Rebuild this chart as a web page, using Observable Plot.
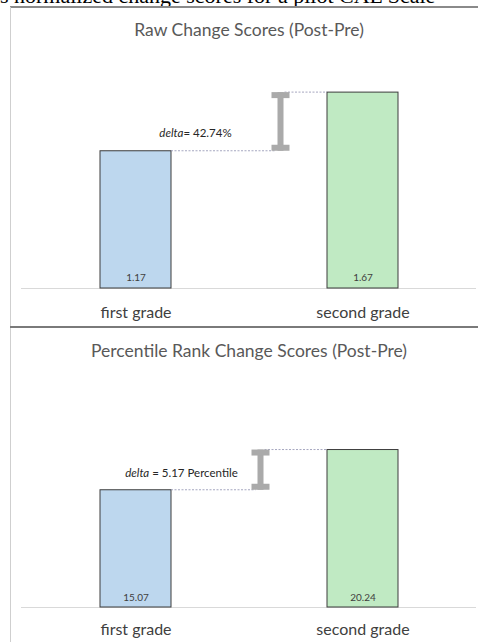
<!DOCTYPE html>
<html><head><meta charset="utf-8">
<script src="https://cdn.jsdelivr.net/npm/d3@7"></script>
<script src="https://cdn.jsdelivr.net/npm/@observablehq/plot@0.6"></script>
<style>
body{margin:0;background:#fff;}
#page{position:relative;width:478px;height:642px;overflow:hidden;background:#fff;font-family:Lato,"Open Sans",sans-serif;}
.abs{position:absolute;}
#caption{position:absolute;left:0;top:0;width:478px;height:7px;overflow:hidden;}
#caption span{position:absolute;top:-15px;font-family:"Liberation Serif","Times New Roman",serif;font-size:22px;line-height:22px;white-space:nowrap;color:#000;}
.frameTop{left:10px;top:6px;width:468px;height:2px;background:#8a8a8a;}
.frameLeft{left:10px;top:7px;width:1px;height:635px;background:#cfcfcf;}
.sep{left:10px;top:326px;width:468px;height:2px;background:#7a7a7a;}
.title{left:10px;width:478px;text-align:center;font-size:17.5px;line-height:20px;color:#595959;}
</style></head><body><div id="page"></div>
<script>
// ---- data ----
const categories = ["first grade", "second grade"];
const rawScores = [1.17, 1.67];
const rawValueLabels = ["1.17", "1.67"];
const percentileScores = [15.07, 20.24];
const percentileValueLabels = ["15.07", "20.24"];
const rawTitle = "Raw Change Scores (Post-Pre)";
const percentileTitle = "Percentile Rank Change Scores (Post-Pre)";
const rawDeltaLabel = ["delta", "= 42.74%"];
const percentileDeltaLabel = ["delta", " = 5.17 Percentile"];
const barColors = ["#bdd7ee", "#c0eac3"];
const captionText = "shows normalized change scores for a pilot CAL Scale";

// ---- layout ----
const page = document.getElementById("page");
function addDiv(cls, text, styleObj) {
  const d = document.createElement("div");
  d.className = "abs " + cls;
  if (text) d.textContent = text;
  Object.assign(d.style, styleObj || {});
  page.appendChild(d);
  return d;
}

// cropped caption line at the very top (only the bottom of the glyphs is visible, as in the reference)
const cap = document.createElement("div");
cap.id = "caption";
const capSpan = document.createElement("span");
capSpan.textContent = captionText;
cap.appendChild(capSpan);
page.appendChild(cap);
{
  const ctx = document.createElement("canvas").getContext("2d");
  ctx.font = '22px "Liberation Serif"';
  const w = ctx.measureText("shows ").width;
  capSpan.style.left = (14 - w) + "px";
}

addDiv("frameTop");
addDiv("frameLeft");
addDiv("sep");
addDiv("title", rawTitle, {top: "20px"});
addDiv("title", percentileTitle, {top: "341px"});

function panel({values, labels, delta, domainMax, pxPerUnit, top, height, marginBottom, beamDx, labelDx, labelDy, valueDy, tickPadding}) {
  const data = categories.map((c, i) => ({category: c, value: values[i], label: labels[i], color: barColors[i]}));
  const marginTop = (height - marginBottom) - pxPerUnit * domainMax;
  const deltaMark = (index, scales) => {
    const x = scales.x, y = scales.y;
    const bw = x.bandwidth ? x.bandwidth() : 71;
    const xa = x(categories[0]), xb = x(categories[1]);
    const beamX = xa + bw / 2 + beamDx;
    const ya = y(values[0]), yb = y(values[1]);
    const g = d3.create("svg:g");
    g.append("line").attr("x1", xa + bw).attr("x2", beamX - 5).attr("y1", ya).attr("y2", ya)
      .attr("stroke", "#8f90b0").attr("stroke-width", 0.8).attr("stroke-dasharray", "2,1.5");
    g.append("line").attr("x1", beamX + 4).attr("x2", xb).attr("y1", yb).attr("y2", yb)
      .attr("stroke", "#8f90b0").attr("stroke-width", 0.8).attr("stroke-dasharray", "2,1.5");
    const beam = "#aaaaaa";
    g.append("rect").attr("x", beamX - 3).attr("width", 6).attr("y", yb).attr("height", ya - yb).attr("fill", beam);
    g.append("rect").attr("x", beamX - 9).attr("width", 18).attr("y", yb).attr("height", 6).attr("fill", beam);
    g.append("rect").attr("x", beamX - 9).attr("width", 18).attr("y", ya - 6).attr("height", 6).attr("fill", beam);
    const t = g.append("text").attr("x", xa + bw / 2 + labelDx).attr("y", ya - labelDy)
      .attr("text-anchor", "middle").attr("font-size", 11.5).attr("fill", "#262626");
    t.append("tspan").attr("font-style", "italic").text(delta[0]);
    t.append("tspan").text(delta[1]);
    return g.node();
  };
  const chart = Plot.plot({
    width: 478,
    height,
    marginLeft: 21,
    marginRight: 2,
    marginTop,
    marginBottom,
    style: {fontFamily: "Lato, 'Open Sans', sans-serif", fontSize: "16px", background: "transparent", overflow: "visible"},
    x: {domain: categories, paddingInner: 0.688, paddingOuter: 0.344, label: null},
    y: {domain: [0, domainMax], axis: null},
    marks: [
      Plot.ruleY([0], {stroke: "#d9d9d9", strokeWidth: 1.2}),
      Plot.barY(data, {x: "category", y: "value", fill: "color", stroke: "#3c3c3c", strokeWidth: 1}),
      Plot.text(data, {x: "category", y: 0, text: "label", dy: valueDy, fontSize: 10, fill: "#404040"}),
      Plot.axisX({tickSize: 0, tickPadding, fill: "#404040", fontSize: 16, label: null}),
      deltaMark
    ]
  });
  chart.style.position = "absolute";
  chart.style.left = "0px";
  chart.style.top = top + "px";
  page.appendChild(chart);
}

panel({values: rawScores, labels: rawValueLabels, delta: rawDeltaLabel, domainMax: 2, pxPerUnit: 117.3,
  top: 50, height: 276, marginBottom: 38, beamDx: 145, labelDx: 60, labelDy: 14, valueDy: -11, tickPadding: 18});
panel({values: percentileScores, labels: percentileValueLabels, delta: percentileDeltaLabel, domainMax: 30, pxPerUnit: 7.78,
  top: 370, height: 272, marginBottom: 35, beamDx: 125, labelDx: 46, labelDy: 13, valueDy: -10, tickPadding: 16});
</script>
</body></html>
